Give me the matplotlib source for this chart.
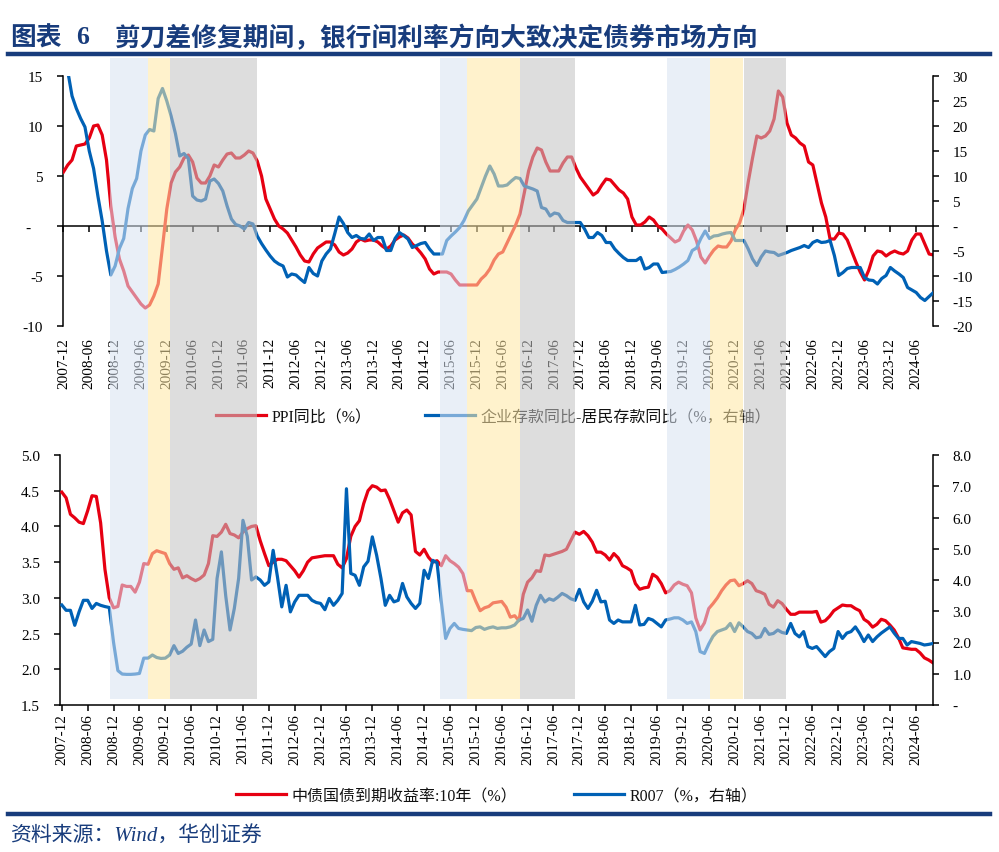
import matplotlib
matplotlib.use('Agg')
import matplotlib.pyplot as plt
import numpy as np
from matplotlib.patches import Rectangle
from matplotlib.lines import Line2D
import matplotlib.transforms as mtransforms
from matplotlib.ticker import FixedLocator, FuncFormatter

plt.rcParams['font.family'] = ['Liberation Serif', 'Noto Sans CJK SC']
plt.rcParams['axes.unicode_minus'] = False

# ---------------- data (monthly, 2007-12 ... 2024-10) ----------------
START_YEAR, START_MONTH = 2007, 12

ppi_yoy = [
    5.4,
    6.1, 6.6, 8.0, 8.1, 8.2, 8.8, 10.0, 10.1, 9.1, 6.6, 2.0, -1.1,
    -3.3, -4.5, -6.0, -6.6, -7.2, -7.8, -8.2, -7.9, -7.0, -5.8, -2.1, 1.7,
    4.3, 5.4, 5.9, 6.8, 7.1, 6.4, 4.8, 4.3, 4.3, 5.0, 6.1, 5.9,
    6.6, 7.2, 7.3, 6.8, 6.8, 7.1, 7.5, 7.3, 6.5, 5.0, 2.7, 1.7,
    0.7, 0.0, -0.3, -0.7, -1.4, -2.1, -2.9, -3.5, -3.6, -2.8, -2.2, -1.9,
    -1.6, -1.6, -1.9, -2.6, -2.9, -2.7, -2.3, -1.6, -1.3, -1.5, -1.4, -1.4,
    -1.6, -2.0, -2.3, -2.0, -1.4, -1.1, -0.9, -1.2, -1.8, -2.2, -2.7, -3.3,
    -4.3, -4.8, -4.6, -4.6, -4.6, -4.8, -5.4, -5.9, -5.9, -5.9, -5.9, -5.9,
    -5.3, -4.9, -4.3, -3.4, -2.8, -2.6, -1.7, -0.8, 0.1, 1.2, 3.3, 5.5,
    6.9, 7.8, 7.6, 6.4, 5.5, 5.5, 5.5, 6.3, 6.9, 6.9, 5.8, 4.9,
    4.3, 3.7, 3.1, 3.4, 4.1, 4.7, 4.6, 4.1, 3.6, 3.3, 2.7, 0.9,
    0.1, 0.1, 0.4, 0.9, 0.6, 0.0, -0.3, -0.8, -1.2, -1.6, -1.4, -0.5,
    0.1, -0.4, -1.5, -3.1, -3.7, -3.0, -2.4, -2.0, -2.1, -2.1, -1.5, -0.4,
    0.3, 1.7, 4.4, 6.8, 9.0, 8.8, 9.0, 9.5, 10.7, 13.5, 12.9, 10.3,
    9.1, 8.8, 8.3, 8.0, 6.4, 6.1, 4.2, 2.3, 0.9, -1.3, -1.3, -0.7,
    -0.8, -1.4, -2.5, -3.6, -4.6, -5.4, -4.4, -3.0, -2.5, -2.6, -3.0, -2.7,
    -2.5, -2.7, -2.8, -2.5, -1.4, -0.8, -0.8, -1.8, -2.8, -2.9,
]

deposit_gap = [
    36, 31, 26, 23.5, 21.5, 19.8, 15, 11.5, 6, 1, -5, -9.8, -8,
    -4.5, -2.5, 3.5, 7.5, 9.5, 15, 18.2, 19.3, 19, 25.5, 27.5, 25,
    22, 18.5, 14, 14.5, 13.5, 6, 5.2, 5, 5.4, 9, 9.4, 8.5,
    7, 4, 1.4, 0.3, 0, -0.6, 0.7, 0.4, -2, -3.5, -4.8, -6,
    -7, -7.6, -8, -10.2, -9.6, -9.8, -10.6, -11.3, -8.3, -9.5, -10, -7,
    -5.6, -4.6, -1.5, 1.8, 0.5, -1.3, -2.3, -1.9, -2.5, -2.6, -1.6, -2.9,
    -2.3, -2.3, -4.9, -4.9, -2.5, -1.3, -1.9, -2.6, -4.3, -3.9, -3.5, -3.3,
    -4.6, -5.6, -5.6, -5.6, -2.9, -2, -1.2, -0.3, 1.1, 3, 4.2, 5.4,
    7.7, 10, 12, 10.4, 8, 8, 8.2, 9, 9.7, 9.5, 8, 7.7,
    7.4, 7, 3.7, 3.4, 2, 2.6, 2.4, 1.1, 0.7, 0.7, 0.7, 0.7,
    -0.6, -2.3, -2.3, -1.3, -1.9, -3.3, -3.3, -4.6, -5.5, -6.3, -6.9, -6.9,
    -6.9, -6.3, -8.6, -8.3, -7.6, -7.6, -9.3, -9.2, -9.1, -8.7, -8.2, -7.6,
    -6.9, -4.9, -4.4, -2.5, -1, -2.5, -2, -1.9, -1.6, -1.4, -1.3, -2.9,
    -2.9, -2.9, -4.6, -6.6, -7.9, -6.2, -5, -5.2, -5.3, -5.9, -5.6, -5.3,
    -4.9, -4.6, -4.3, -3.9, -4.3, -3.3, -2.9, -3.3, -3.2, -2.9, -5.9, -9.9,
    -9.3, -8.5, -8.3, -8.3, -8.3, -10.3, -10.8, -10.9, -11.6, -10.5, -9.9, -8.3,
    -9, -9.6, -10.3, -12.3, -12.8, -13.3, -14.3, -14.9, -14.1, -13.3,
]

cgb_10y = [
    4.48,
    4.40, 4.17, 4.12, 4.06, 4.04, 4.22, 4.43, 4.42, 4.05, 3.40, 3.00, 2.86,
    2.88, 3.18, 3.16, 3.16, 3.08, 3.22, 3.48, 3.47, 3.62, 3.66, 3.64, 3.62,
    3.48, 3.40, 3.42, 3.28, 3.31, 3.27, 3.24, 3.27, 3.32, 3.48, 3.87, 3.86,
    3.92, 4.03, 3.90, 3.88, 3.84, 3.92, 3.97, 4.00, 4.01, 3.80, 3.62, 3.45,
    3.50, 3.54, 3.54, 3.52, 3.45, 3.38, 3.29, 3.38, 3.50, 3.56, 3.57, 3.58,
    3.59, 3.59, 3.59, 3.47, 3.42, 3.55, 3.86, 4.00, 4.08, 4.32, 4.50, 4.57,
    4.55, 4.50, 4.51, 4.38, 4.22, 4.06, 4.19, 4.23, 4.16, 3.65, 3.60, 3.68,
    3.57, 3.50, 3.52, 3.45, 3.59, 3.52, 3.48, 3.43, 3.34, 3.10, 3.10, 2.95,
    2.82, 2.86, 2.88, 2.93, 2.94, 2.95, 2.87, 2.73, 2.75, 2.68, 3.05, 3.22,
    3.28, 3.38, 3.37, 3.60, 3.59, 3.61, 3.63, 3.65, 3.68, 3.80, 3.92, 3.89,
    3.93, 3.87, 3.78, 3.64, 3.64, 3.60, 3.53, 3.62, 3.56, 3.45, 3.42, 3.38, 3.20,
    3.12, 3.14, 3.15, 3.33, 3.29, 3.20, 3.07, 3.10, 3.18, 3.22, 3.19, 3.17,
    3.07, 2.72, 2.55, 2.65, 2.85, 2.92, 3.00, 3.10, 3.18, 3.24, 3.25, 3.17,
    3.20, 3.24, 3.20, 3.10, 3.08, 3.05, 2.91, 2.87, 2.96, 2.92, 2.84, 2.77,
    2.77, 2.80, 2.80, 2.80, 2.80, 2.81, 2.66, 2.68, 2.74, 2.82, 2.86, 2.90,
    2.89, 2.89, 2.85, 2.82, 2.70, 2.66, 2.59, 2.63, 2.70, 2.68, 2.62, 2.55,
    2.44, 2.30, 2.29, 2.28, 2.28, 2.23, 2.16, 2.13, 2.09,
]

r007 = [
    3.2,
    3.03, 3.03, 2.55, 2.98, 3.35, 3.35, 3.09, 3.25, 3.19, 3.15, 3.12, 2.0,
    1.1, 0.99, 0.98, 0.98, 0.99, 1.01, 1.5, 1.5, 1.6, 1.52, 1.49, 1.5,
    1.6, 1.9, 1.65, 1.72, 1.85, 1.95, 2.72, 1.9, 2.4, 2.03, 2.1, 4.05,
    4.9, 3.5, 2.4, 3.09, 4.05, 5.91, 5.4, 4.0, 4.1, 4.0, 3.83, 3.94,
    4.95, 4.1, 3.14, 3.83, 2.98, 3.3, 3.51, 3.51, 3.51, 3.35, 3.28, 3.25,
    3.05, 3.41, 3.19, 3.35, 3.57, 6.92, 4.21, 4.15, 3.83, 4.42, 4.6, 5.38,
    4.79, 4.05, 3.19, 3.51, 3.3, 3.35, 3.89, 3.46, 3.25, 3.09, 3.25, 4.31,
    4.05, 4.63, 4.55, 3.3, 2.13, 2.45, 2.61, 2.45, 2.42, 2.4, 2.38, 2.48,
    2.5, 2.42, 2.47, 2.5, 2.45, 2.47, 2.47, 2.5, 2.56, 2.72, 2.77, 3.04,
    2.68, 3.19, 3.51, 3.3, 3.4, 3.35, 3.45, 3.57, 3.5, 3.4, 3.35, 3.7,
    3.3, 3.09, 3.32, 3.67, 3.3, 3.32, 2.72, 2.61, 2.72, 2.66, 2.66, 2.66, 3.19,
    2.56, 2.58, 2.77, 2.72, 2.61, 2.5, 2.72, 2.75, 2.79, 2.79, 2.72, 2.61,
    2.66, 2.35, 1.71, 1.65, 1.95, 2.2, 2.35, 2.4, 2.45, 2.61, 2.35, 2.63,
    2.5, 2.35, 2.29, 2.15, 2.18, 2.45, 2.26, 2.29, 2.4, 2.32, 2.29, 2.61,
    2.29, 2.18, 2.35, 1.87, 1.81, 1.87, 1.71, 1.55, 1.71, 1.81, 2.35, 2.13,
    2.3, 2.35, 2.5, 2.29, 2.03, 2.24, 2.03, 2.18, 2.3, 2.4, 2.5, 2.3,
    2.13, 2.13, 1.92, 2.03, 2.0, 1.97, 1.92, 1.94, 1.97,
]

# shaded phases: (start date, end date, kind)
phases = [
    ('2008-10-25', '2009-07-19', 'blue'),
    ('2009-07-19', '2009-12-25', 'yellow'),
    ('2009-12-25', '2011-09-01', 'gray'),
    ('2015-03-13', '2015-09-25', 'blue'),
    ('2015-09-25', '2016-09-28', 'yellow'),
    ('2016-09-28', '2017-10-25', 'gray'),
    ('2019-08-04', '2020-06-07', 'blue'),
    ('2020-06-07', '2021-01-25', 'yellow'),
    ('2021-02-01', '2021-11-25', 'gray'),
]

top_left_ticks = [-10, -5, 0, 5, 10, 15]
top_right_ticks = [-20, -15, -10, -5, 0, 5, 10, 15, 20, 25, 30]
bot_left_ticks = [1.5, 2.0, 2.5, 3.0, 3.5, 4.0, 4.5, 5.0]
bot_right_ticks = [0, 1, 2, 3, 4, 5, 6, 7, 8]

title_prefix = '图表'
title_num = '6'
title_main = '剪刀差修复期间，银行间利率方向大致决定债券市场方向'
legend_top = ['PPI同比（%）', '企业存款同比-居民存款同比（%，右轴）']
legend_bot = ['中债国债到期收益率:10年（%）', 'R007（%，右轴）']
source = '资料来源：Wind，华创证券'

# ---------------- styling ----------------
RED = '#E60012'
BLUE = '#0061B5'
NAVY = '#183C7C'
SHADE = {'blue': '#D8E3F2', 'yellow': '#FFE8A5', 'gray': '#C3C3C3'}
SHADE_ALPHA = 0.56
LW = 2.3
TICK_FS = 11

W, H = 999, 853
fig = plt.figure(figsize=(W / 100, H / 100), dpi=100)


def fx(px):
    return px / W


def fy(py):
    return 1 - py / H


def month_pos(d):
    y, m, dd = (int(v) for v in d.split('-'))
    return (y - START_YEAR) * 12 + (m - START_MONTH) + (dd - 1) / 30.0


def month_label(i):
    tot = START_MONTH - 1 + i
    return f'{START_YEAR + tot // 12}-{tot % 12 + 1:02d}'


ax1 = fig.add_axes([fx(63), fy(327), fx(933) - fx(63), (327 - 77) / H])
ax1r = ax1.twinx()
ax2 = fig.add_axes([fx(60.3), fy(706), fx(933) - fx(60.3), (706 - 456) / H])
ax2r = ax2.twinx()

# ---- top chart ----
ax1.plot(np.arange(len(ppi_yoy)), ppi_yoy, color=RED, lw=LW, zorder=3,
         solid_joinstyle='round')
ax1r.plot(np.arange(len(deposit_gap)), deposit_gap, color=BLUE, lw=LW, zorder=3,
          solid_joinstyle='round')
ax1.set_xlim(-0.1, 201.9)
ax1.set_ylim(-10, 15)
ax1r.set_ylim(-20, 30)

for a in (ax1, ax1r):
    a.set_facecolor('none')
ax1.spines['top'].set_visible(False)
ax1.spines['right'].set_visible(False)
ax1.spines['bottom'].set_position(('data', 0))
for s in ('top', 'bottom', 'left'):
    ax1r.spines[s].set_visible(False)
for sp in (ax1.spines['left'], ax1.spines['bottom'], ax1r.spines['right']):
    sp.set_linewidth(1.1)
    sp.set_color('black')

xt = list(range(0, 202, 6))
ax1.xaxis.set_major_locator(FixedLocator(xt))
ax1.set_xticklabels([month_label(i) for i in xt])
ax1.tick_params(axis='x', direction='out', length=4, width=1.1, pad=76,
                labelsize=TICK_FS, labelrotation=90)
ax1.yaxis.set_major_locator(FixedLocator(top_left_ticks))
ax1.yaxis.set_major_formatter(FuncFormatter(
    lambda v, p: '-   ' if abs(v) < 1e-9 else f'{v:g}'))
ax1.tick_params(axis='y', direction='out', length=4, width=1.1, pad=10.5,
                labelsize=TICK_FS)
ax1r.yaxis.set_major_locator(FixedLocator(top_right_ticks))
ax1r.yaxis.set_major_formatter(FuncFormatter(
    lambda v, p: '-' if abs(v) < 1e-9 else f'{v:g}'))
ax1r.tick_params(axis='y', direction='out', length=4, width=1.1, pad=10,
                 labelsize=TICK_FS)

# ---- bottom chart ----
ax2.plot(np.arange(len(cgb_10y)), cgb_10y, color=RED, lw=LW, zorder=3,
         solid_joinstyle='round')
ax2r.plot(np.arange(len(r007)), r007, color=BLUE, lw=LW, zorder=3,
          solid_joinstyle='round')
ax2.set_xlim(-0.35, 202.0)
ax2.set_ylim(1.5, 5.0)
ax2r.set_ylim(0, 8)
for a in (ax2, ax2r):
    a.set_facecolor('none')
ax2.spines['top'].set_visible(False)
ax2.spines['right'].set_visible(False)
for s in ('top', 'bottom', 'left'):
    ax2r.spines[s].set_visible(False)
for sp in (ax2.spines['left'], ax2.spines['bottom'], ax2r.spines['right']):
    sp.set_linewidth(1.1)
    sp.set_color('black')
ax2.xaxis.set_major_locator(FixedLocator(xt))
ax2.set_xticklabels([month_label(i) for i in xt])
ax2.tick_params(axis='x', direction='out', length=4, width=1.1, pad=1.5,
                labelsize=TICK_FS, labelrotation=90)
ax2.yaxis.set_major_locator(FixedLocator(bot_left_ticks))
ax2.yaxis.set_major_formatter(FuncFormatter(lambda v, p: f'{v:.1f}'))
ax2.tick_params(axis='y', direction='out', length=4, width=1.1, pad=10.5,
                labelsize=TICK_FS)
ax2r.yaxis.set_major_locator(FixedLocator(bot_right_ticks))
ax2r.yaxis.set_major_formatter(FuncFormatter(
    lambda v, p: '-' if abs(v) < 1e-9 else f'{v:.1f}'))
ax2r.tick_params(axis='y', direction='out', length=4, width=1.1, pad=10,
                 labelsize=TICK_FS)

# ---- legends ----
LEG_FS = 11.5


def add_legend(color, label, xpx, ypx):
    fig.legend(handles=[Line2D([], [], color=color, lw=LW)], labels=[label],
               loc='center left', bbox_to_anchor=(fx(xpx), fy(ypx)),
               bbox_transform=fig.transFigure, frameon=False, borderpad=0,
               borderaxespad=0, handlelength=3.1, handletextpad=0.4,
               fontsize=LEG_FS, labelcolor='#111111')


add_legend(RED, legend_top[0], 216, 418)
add_legend(BLUE, legend_top[1], 425, 418)
add_legend(RED, legend_bot[0], 236, 797)
add_legend(BLUE, legend_bot[1], 574, 797)

# ---- shaded phases (semi-transparent overlay) ----
trans = mtransforms.blended_transform_factory(ax1.transData, fig.transFigure)
for s, e, k in phases:
    x0, x1 = month_pos(s), month_pos(e)
    fig.add_artist(Rectangle((x0, fy(700)), x1 - x0, fy(59) - fy(700),
                             transform=trans, facecolor=SHADE[k],
                             alpha=SHADE_ALPHA, edgecolor='none', zorder=20))

# ---- title, rules, source ----
fig.text(fx(10), fy(38), title_prefix, fontsize=18.5, fontweight='bold',
         color=NAVY, ha='left', va='center')
fig.text(fx(76), fy(38), title_num, fontsize=18.5, fontweight='bold',
         color=NAVY, ha='left', va='center')
fig.text(fx(115), fy(38), title_main, fontsize=18.5, fontweight='bold',
         color=NAVY, ha='left', va='center')
fig.add_artist(Line2D([fx(8), fx(990)], [fy(55), fy(55)], color=NAVY,
                      lw=3.2, transform=fig.transFigure))
fig.add_artist(Line2D([fx(8), fx(990)], [fy(815), fy(815)], color=NAVY,
                      lw=3.2, transform=fig.transFigure))
fig.text(fx(10), fy(836), source, fontsize=15, style='italic', color=NAVY,
         ha='left', va='center')

fig.savefig('out.png', dpi=100)
